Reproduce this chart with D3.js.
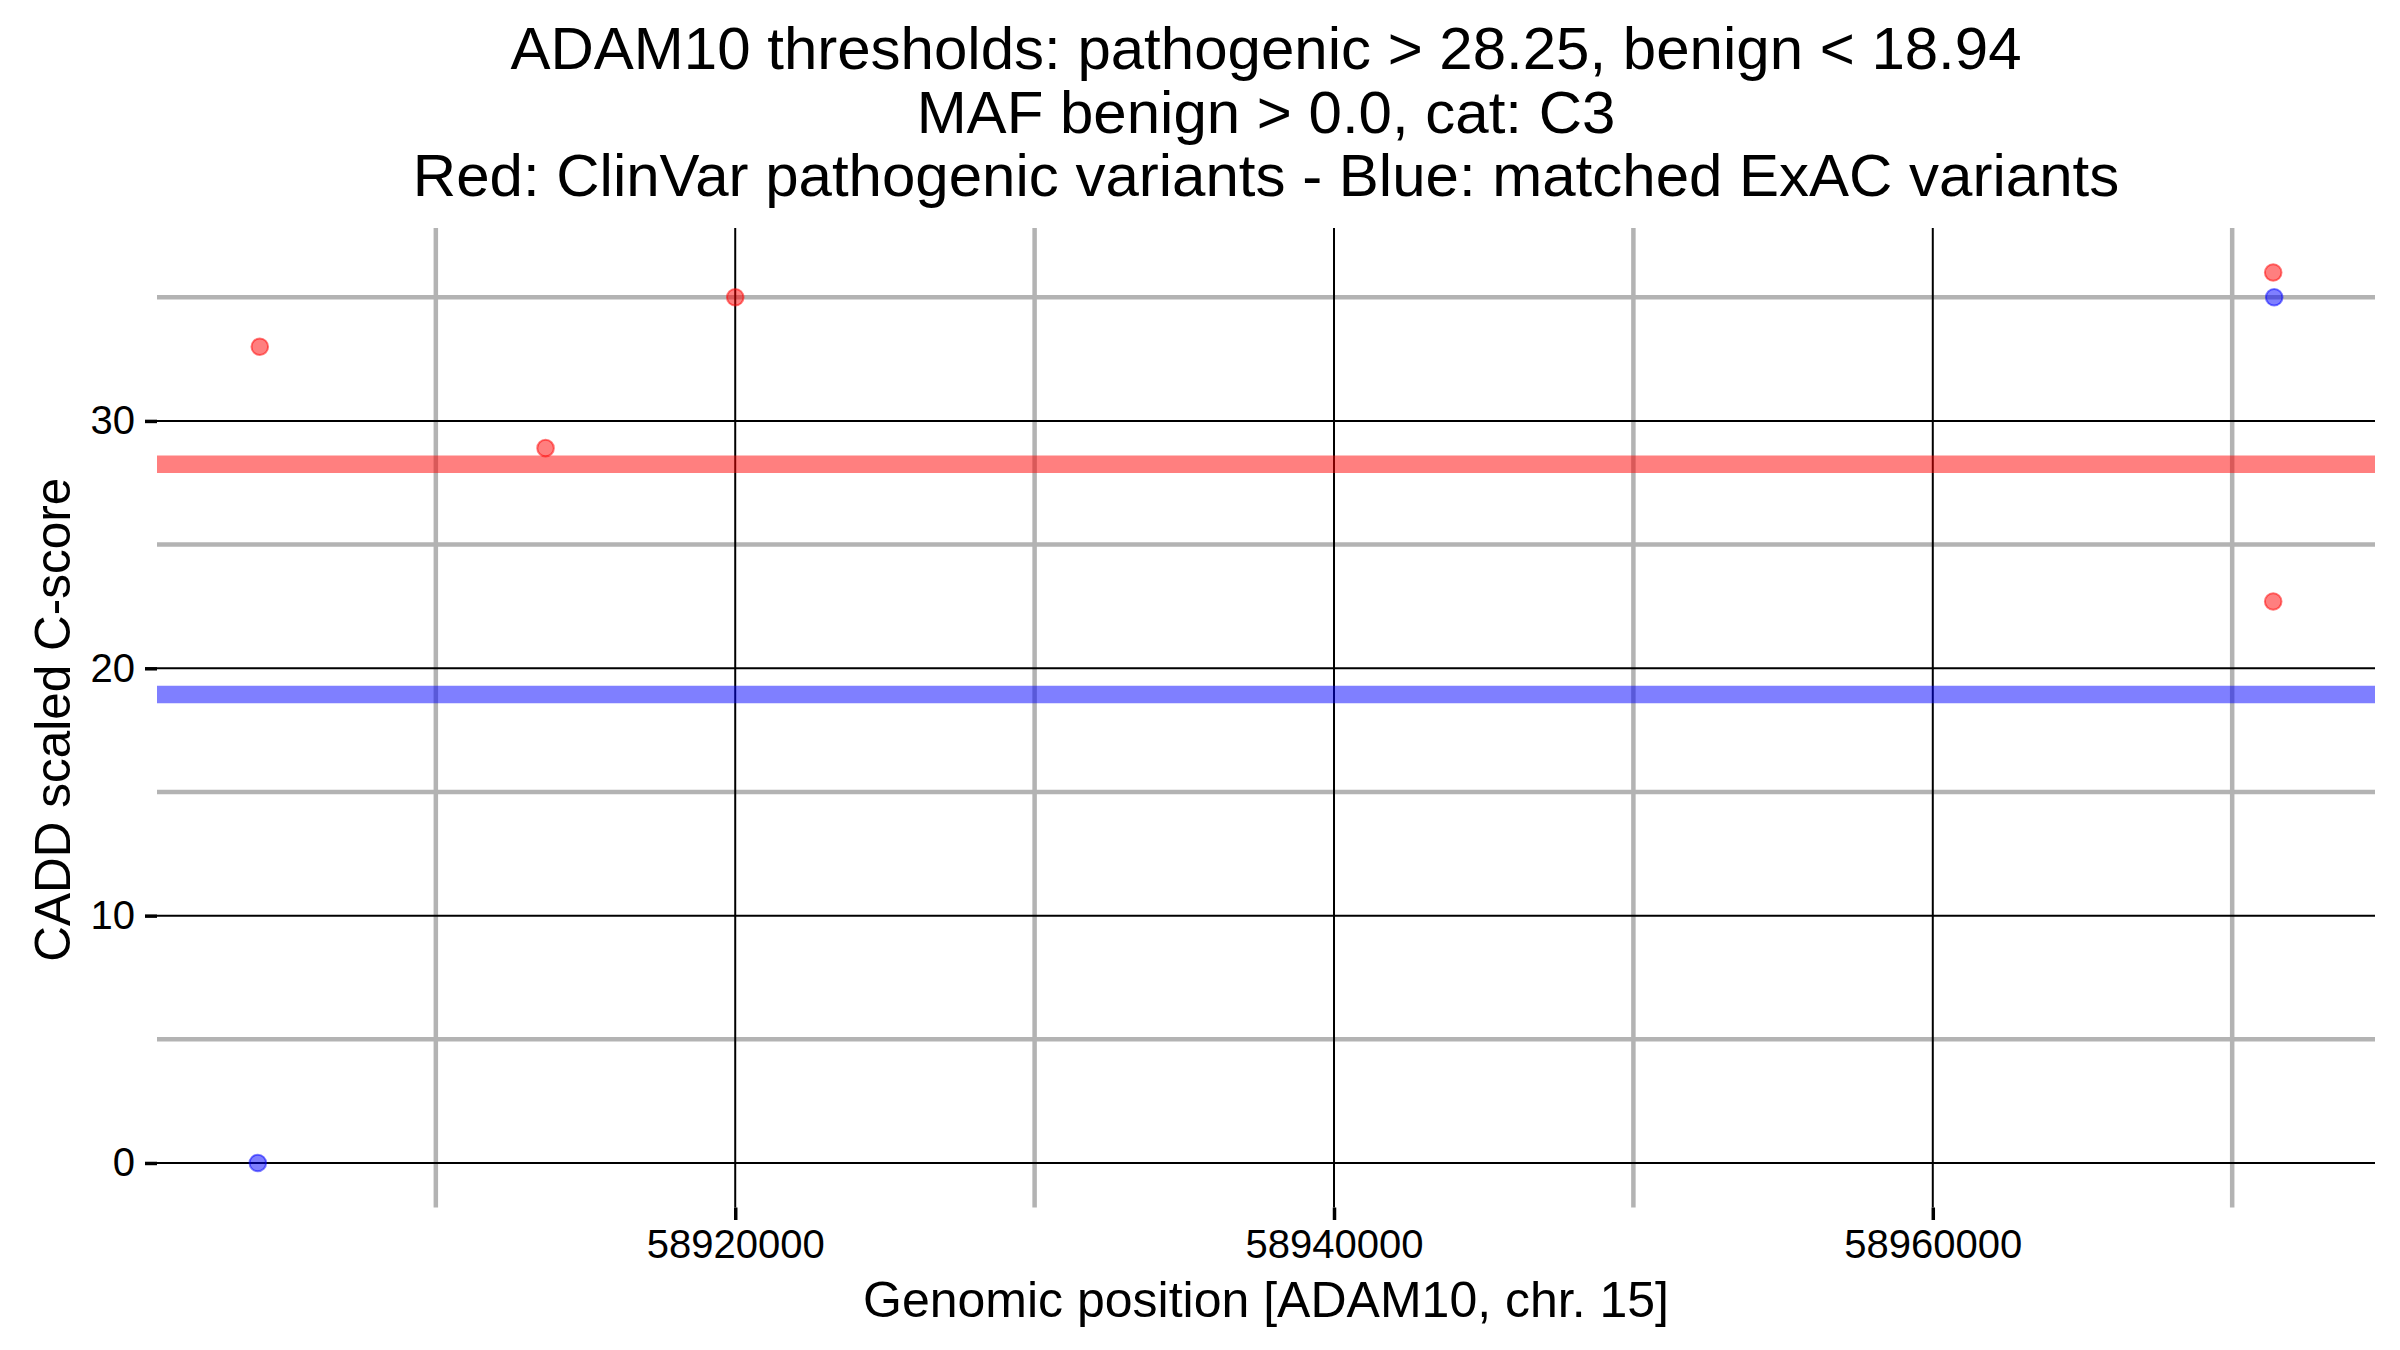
<!DOCTYPE html>
<html>
<head>
<meta charset="utf-8">
<script src="https://cdn.jsdelivr.net/npm/d3@7"></script>
<style>
  html, body { margin: 0; padding: 0; background: #ffffff; }
  svg text { font-family: "Liberation Sans", Arial, Helvetica, sans-serif; fill: #000; }
</style>
</head>
<body>
<svg id="chart" width="2400" height="1350"></svg>
<script>
// ---- data ----
const titleLines = [
  "ADAM10 thresholds: pathogenic > 28.25, benign < 18.94",
  "MAF benign > 0.0, cat: C3",
  "Red: ClinVar pathogenic variants - Blue: matched ExAC variants"
];
const xLabel = "Genomic position [ADAM10, chr. 15]";
const yLabel = "CADD scaled C-score";

const pathogenicPos = [58904120, 58913665, 58920000, 58971370, 58971370];
const pathogenicScore = [33, 28.9, 35, 36, 22.7];
const benignPos = [58904054, 58971403];
const benignScore = [0, 35];

const thresholdPathogenic = 28.25;
const thresholdBenign = 18.94;

const xMajorTicks = [58920000, 58940000, 58960000];
const xMinorTicks = [58910000, 58930000, 58950000, 58970000];
const yMajorTicks = [0, 10, 20, 30];
const yMinorTicks = [5, 15, 25, 35];

// ---- layout ----
const W = 2400, H = 1350;
const panel = { left: 157, right: 2375, top: 228, bottom: 1207.5 };

const svg = d3.select("#chart");

const allX = pathogenicPos.concat(benignPos);
const allY = pathogenicScore.concat(benignScore);
const xExt = d3.extent(allX), yExt = d3.extent(allY);
const xPad = (xExt[1] - xExt[0]) * 0.05, yPad = (yExt[1] - yExt[0]) * 0.05;

const x = d3.scaleLinear().domain([xExt[0] - xPad, xExt[1] + xPad]).range([panel.left, panel.right]);
const y = d3.scaleLinear().domain([yExt[0] - yPad, yExt[1] + yPad]).range([panel.bottom, panel.top]);

const minorColor = "#b3b3b3";

// minor grid
const g = svg.append("g");
g.selectAll("line.hmin").data(yMinorTicks).enter().append("line")
  .attr("x1", panel.left).attr("x2", panel.right)
  .attr("y1", d => y(d)).attr("y2", d => y(d))
  .attr("stroke", minorColor).attr("stroke-width", 4.5);
g.selectAll("line.vmin").data(xMinorTicks).enter().append("line")
  .attr("y1", panel.top).attr("y2", panel.bottom)
  .attr("x1", d => x(d)).attr("x2", d => x(d))
  .attr("stroke", minorColor).attr("stroke-width", 4.5);
// major grid
g.selectAll("line.hmaj").data(yMajorTicks).enter().append("line")
  .attr("x1", panel.left).attr("x2", panel.right)
  .attr("y1", d => y(d)).attr("y2", d => y(d))
  .attr("stroke", "#000").attr("stroke-width", 2);
g.selectAll("line.vmaj").data(xMajorTicks).enter().append("line")
  .attr("y1", panel.top).attr("y2", panel.bottom)
  .attr("x1", d => x(d)).attr("x2", d => x(d))
  .attr("stroke", "#000").attr("stroke-width", 2);

// axes (ticks + labels)
const yAxis = d3.axisLeft(y).tickValues(yMajorTicks).tickSize(12).tickPadding(10).tickFormat(d3.format("d"));
const ya = svg.append("g").attr("transform", `translate(${panel.left},0)`).call(yAxis);
ya.select(".domain").remove();
ya.selectAll(".tick line").attr("stroke", "#000").attr("stroke-width", 3.5);
ya.selectAll(".tick text").attr("font-size", 40).attr("font-family", "Liberation Sans, Arial, sans-serif").attr("fill", "#000");

const xAxis = d3.axisBottom(x).tickValues(xMajorTicks).tickSize(12.5).tickPadding(10).tickFormat(d3.format("d"));
const xa = svg.append("g").attr("transform", `translate(0,${panel.bottom})`).call(xAxis);
xa.select(".domain").remove();
xa.selectAll(".tick line").attr("stroke", "#000").attr("stroke-width", 3.5);
xa.selectAll(".tick text").attr("font-size", 40).attr("font-family", "Liberation Sans, Arial, sans-serif").attr("fill", "#000");

// points
const pts = svg.append("g");
pts.selectAll("circle.p").data(d3.range(pathogenicPos.length)).enter().append("circle")
  .attr("cx", i => x(pathogenicPos[i])).attr("cy", i => y(pathogenicScore[i]))
  .attr("r", 8.3)
  .attr("fill", "rgba(255,0,0,0.5)").attr("stroke", "rgba(255,0,0,0.5)").attr("stroke-width", 2);
pts.selectAll("circle.b").data(d3.range(benignPos.length)).enter().append("circle")
  .attr("cx", i => x(benignPos[i])).attr("cy", i => y(benignScore[i]))
  .attr("r", 8.3)
  .attr("fill", "rgba(0,0,255,0.5)").attr("stroke", "rgba(0,0,255,0.5)").attr("stroke-width", 2);

// threshold bands
svg.append("line")
  .attr("x1", panel.left).attr("x2", panel.right)
  .attr("y1", y(thresholdPathogenic)).attr("y2", y(thresholdPathogenic))
  .attr("stroke", "rgba(255,0,0,0.5)").attr("stroke-width", 17.6);
svg.append("line")
  .attr("x1", panel.left).attr("x2", panel.right)
  .attr("y1", y(thresholdBenign)).attr("y2", y(thresholdBenign))
  .attr("stroke", "rgba(0,0,255,0.5)").attr("stroke-width", 17.6);

// titles
const cx = (panel.left + panel.right) / 2;
svg.append("g").selectAll("text").data(titleLines).enter().append("text")
  .attr("x", cx).attr("y", (d, i) => 69 + i * 63.5)
  .attr("text-anchor", "middle").attr("font-size", 60)
  .text(d => d);

svg.append("text").attr("x", cx).attr("y", 1317)
  .attr("text-anchor", "middle").attr("font-size", 50).text(xLabel);

svg.append("text")
  .attr("transform", `translate(70,${(panel.top + panel.bottom) / 2 + 2}) rotate(-90)`)
  .attr("text-anchor", "middle").attr("font-size", 49.5).text(yLabel);
</script>
</body>
</html>
